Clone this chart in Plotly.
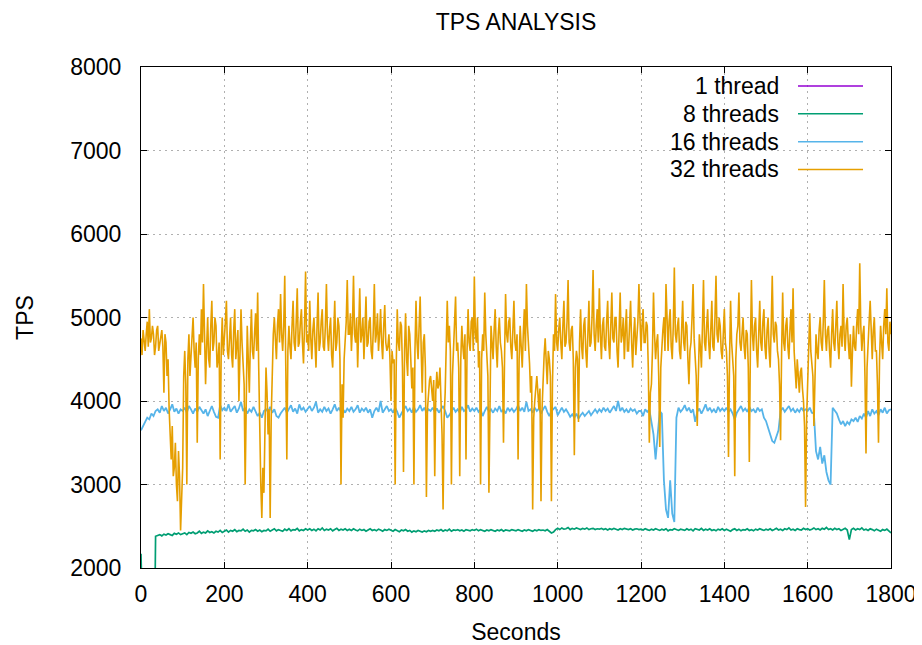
import plotly.graph_objects as go

# ---- data ----
# 32 threads sampled every 2.5 s, the other runs every 5 s
seconds_32 = [i * 2.5 for i in range(721)]
seconds = list(range(0, 1801, 5))

tps_32 = [
    4750,4550, 4850,4700, 4600,4800, 4950,4650, 5100,4700, 4750,4900, 4800,4550, 4650,4850, 4900,4600, 4700,4800, 4850,4650, 4100,4800, 4700,4300, 4500,3900, 3500,3300, 3700,3100, 3200,3500, 3000,2800, 3400,3100, 2450,2900,
    3200,4300, 4600,4200, 3000,4500, 4800,4300, 4500,4750, 5000,4600, 4400,4700, 3500,4500, 4800,4550, 5100,4700, 5400,4800, 4200,4650, 5000,4500, 4400,4900, 5200,4600, 4700,5000, 4900,4400, 4500,4700, 3300,4600, 5000,4550,
    4700,4950, 5200,4600, 4500,4800, 5000,4550, 4400,4850, 5100,4500, 4700,4850, 4000,4600, 5100,4700, 4500,4200, 3000,4400, 4900,4500, 4100,4700, 5100,4600, 4500,4800, 5050,4600, 5300,4400, 3500,3000, 2600,3200, 2900,3700,
    4400,4100, 3600,3900, 2600,3800, 4500,4800, 5000,4650, 4500,4900, 5100,4700, 5280,4800, 4600,4900, 5500,4400, 3300,4600, 4900,4650, 4500,4900, 5200,4700, 4600,4950, 5350,4650, 4700,4950, 5100,4700, 4450,4900, 5550,4700,
    4800,4600, 5200,4750, 4500,4850, 5000,4700, 4400,4900, 5300,4600, 4700,4950, 5100,4650, 4600,4900, 5400,4800, 4600,4850, 5000,4550, 4400,4800, 5200,4600, 4700,5000, 4900,4500, 3000,4200, 3800,4500, 4700,4950, 5450,4800,
    4800,5050, 4600,4900, 5500,4800, 4700,5000, 4400,4800, 5350,4700, 4800,5000, 4500,4850, 5250,4650, 4700,4950, 5000,4600, 4500,4850, 5400,4700, 4800,5050, 4600,4800, 5100,4700, 4500,4900, 5150,4700, 4600,4650, 4800,4500,
    4000,4600, 4450,4500, 3000,4400, 5100,4700, 4600,4950, 4900,4400, 3150,4600, 5050,4500, 4300,4900, 4800,4500, 4150,4400, 3000,4600, 5200,4700, 4500,4900, 5250,4600, 4100,4700, 4800,4400, 2850,3900, 4100,4250, 4300,4150,
    4000,4250, 3100,4100, 4350,4150, 4200,4400, 4000,3600, 2700,3800, 4100,4600, 5200,4700, 4900,4600, 3000,4300, 4600,4950, 5250,4600, 4700,4400, 3100,4500, 4900,4650, 4500,4800, 3300,4600, 5100,4700, 4600,4950, 5000,4600,
    5490,4800, 4700,5000, 4400,4600, 3000,4500, 4800,4600, 5300,4800, 4500,4300, 2900,4400, 4900,4700, 4500,4850, 5100,4650, 4400,4800, 5000,4700, 4600,4400, 3500,4500, 5280,4800, 4700,4950, 5000,4650, 4500,4850, 5200,4700,
    4600,4800, 3300,4500, 4900,4650, 4400,4800, 5100,4600, 5400,4900, 4700,4450, 4100,4300, 2700,3800, 4000,4200, 4300,4100, 3900,4150, 2800,3900, 4400,4550, 4750,4400, 4200,4600, 4500,4300, 2800,4200, 4800,4600, 5280,4700,
    4600,4850, 5000,4700, 4500,4900, 5200,4650, 4700,4950, 5450,4700, 4600,4850, 4900,4500, 3350,4400, 4600,4500, 3750,4700, 5100,4650, 4500,4900, 5000,4600, 4400,4800, 5200,4650, 4700,5000, 5570,4800, 4600,4900, 5100,4700,
    5350,4800, 4500,4900, 5000,4650, 4600,4950, 5200,4700, 4500,4900, 5300,4750, 4700,5000, 5000,4600, 4400,4850, 5300,4700, 4800,5000, 4500,4850, 5100,4600, 4600,4900, 5200,4700, 4400,4800, 5000,4550, 4700,4950, 5400,4800,
    4600,4900, 5100,4700, 4700,4950, 4900,4400, 3500,4100, 4200,4600, 5300,4800, 4500,4700, 4800,4300, 3450,4400, 4700,4850, 5000,4600, 5400,4800, 4600,4950, 5100,4650, 4500,4900, 5600,4800, 4700,4900, 5000,4600, 4500,4850,
    5200,4700, 4600,4950, 4900,4500, 4200,4600, 4700,5000, 5400,4750, 4500,4300, 3700,4500, 4800,4650, 4400,4900, 5450,4700, 4600,4900, 5100,4700, 4500,4850, 5200,4650, 4600,5000, 5500,4800, 4700,5000, 4900,4600, 4500,4800,
    5100,4700, 4600,4300, 3330,4500, 5200,4700, 4500,4300, 3100,4500, 4800,4900, 5300,4700, 4600,4900, 5000,4650, 4500,4850, 4800,4400, 3270,4600, 5450,4800, 4600,4900, 5000,4600, 4400,4800, 5200,4700, 4600,4950, 5100,4650,
    4500,4850, 5000,4600, 4400,4900, 5500,4800, 4700,4950, 4900,4600, 4500,4200, 3530,4600, 5300,4700, 4600,4900, 5000,4650, 4500,4850, 5100,4700, 5350,4600, 4300,4150, 4500,4300, 4100,4350, 4400,4150, 4000,3700, 2730,3800,
    4200,4500, 5050,4600, 4400,4300, 3700,4400, 4800,4600, 4500,4850, 5000,4700, 4600,4950, 5450,4800, 4600,4850, 4900,4600, 4400,4800, 5100,4700, 4600,4900, 5200,4700, 4500,4800, 4900,4650, 5400,4800, 4600,4900, 5000,4700,
    4500,4800, 4170,4600, 4900,4650, 4600,4900, 5100,4800, 5650,4900, 4600,4800, 4900,4300, 3370,4400, 4800,4950, 5200,4700, 4500,4850, 5000,4600, 4600,4200, 3500,4500, 4900,4700, 4500,4900, 5100,4800, 5350,4700, 4600,4950,
    4800,
]

tps_16 = [
    3650, 3700, 3740, 3800, 3780, 3850, 3820, 3880, 3900, 3860, 3940, 3880, 3920, 3850, 3900, 3960, 3870, 3910, 3850, 3900,
    3880, 3920, 3860, 3940, 3900, 3850, 3910, 3870, 3930, 3880, 3850, 3900, 3820, 3880, 3940, 3870, 3810, 3800, 3950, 3890,
    3920, 3880, 3960, 3870, 3900, 3940, 3860, 3910, 3990, 3880, 3920, 3850, 3900, 3870, 3930, 3880, 3820, 3860, 3800, 3880,
    3900, 3870, 3930, 3860, 3900, 3820, 3800, 3850, 3880, 3920, 3860, 3900, 3950, 3870, 3910, 3850, 3960, 3890, 3920, 3870,
    3900, 3940, 3880, 3920, 3990, 3860, 3900, 3870, 3930, 3880, 3910, 3850, 3900, 3960, 3880, 3920, 3870, 3900, 3860, 3910,
    3880, 3930, 3870, 3900, 3950, 3860, 3910, 3880, 3920, 3860, 3900, 3800, 3880, 3920, 3870, 4000, 3860, 3900, 3940, 3880,
    3900, 3860, 3920, 3870, 3800, 3850, 3900, 3940, 3880, 3910, 3860, 3930, 3870, 3900, 3950, 3880, 3920, 3860, 3900, 3880,
    3920, 3870, 3910, 3860, 3900, 3940, 3880, 3800, 3830, 3880, 3920, 3870, 3900, 3860, 3930, 3880, 3900, 3950, 3870, 3910,
    3880, 3920, 3870, 3900, 3820, 3880, 3930, 3870, 3900, 3860, 3910, 3880, 3940, 3870, 3900, 3850, 3920, 3880, 3910, 3870,
    3900, 3950, 3880, 3920, 3870, 3990, 3880, 3900, 3860, 3920, 3880, 3910, 3850, 3900, 3940, 3870, 3820, 3880, 3900, 3930,
    3830, 3880, 3920, 3870, 3900, 3860, 3810, 3840, 3800, 3850, 3790, 3830, 3860, 3820, 3850, 3880, 3830, 3870, 3900, 3860,
    3900, 3870, 3920, 3880, 3910, 3860, 3900, 3940, 3880, 4000, 3880, 3920, 3870, 3900, 3860, 3910, 3880, 3900, 3850, 3880,
    3880, 3820, 3900, 3870, 3900, 3750, 3600, 3300, 3550, 3880, 3850, 3050, 2700, 2600, 3050, 2650, 2550, 3800, 3920, 3870,
    3900, 3950, 3880, 3920, 3860, 3900, 3750, 3870, 3910, 3850, 3900, 3960, 3880, 3920, 3870, 3900, 3860, 3930, 3880, 3910,
    3880, 3920, 3870, 3900, 3850, 3780, 3860, 3900, 3940, 3880, 3910, 3870, 3930, 3880, 3900, 3860, 3920, 3880, 3900, 3800,
    3760, 3680, 3600, 3520, 3500, 3580, 3650, 3880, 3920, 3870, 3900, 3940, 3880, 3910, 3860, 3900, 3870, 3920, 3880, 3900,
    3880, 3920, 3860, 3850, 3400, 3300, 3450, 3250, 3350, 3150, 3050, 3000, 3920, 3880, 3850, 3780, 3720, 3760, 3700, 3750,
    3720, 3780, 3760, 3800, 3750, 3820, 3790, 3850, 3800, 3880, 3820, 3900, 3850, 3880, 3830, 3900, 3860, 3920, 3850, 3890,
    3900,
]

tps_8 = [
    2170, 0, 0, 0, 0, 0, 0, 2380, 2390, 2400, 2385, 2405, 2395, 2410, 2400, 2390, 2415, 2405, 2420, 2400,
    2410, 2420, 2400, 2425, 2415, 2430, 2410, 2420, 2440, 2415, 2430, 2420, 2445, 2425, 2435, 2420, 2440, 2430, 2450, 2425,
    2440, 2455, 2430, 2450, 2440, 2460, 2435, 2450, 2445, 2465, 2440, 2455, 2430, 2450, 2445, 2460, 2440, 2455, 2435, 2450,
    2445, 2465, 2440, 2455, 2470, 2445, 2460, 2450, 2440, 2465, 2450, 2470, 2445, 2460, 2455, 2475, 2445, 2460, 2450, 2470,
    2455, 2470, 2450, 2465, 2445, 2470, 2455, 2480, 2450, 2465, 2455, 2470, 2445, 2460, 2475, 2450, 2465, 2455, 2470, 2450,
    2465, 2450, 2470, 2455, 2445, 2465, 2450, 2460, 2440, 2455, 2470, 2450, 2460, 2445, 2465, 2455, 2440, 2460, 2450, 2465,
    2455, 2440, 2460, 2450, 2435, 2455, 2445, 2460, 2440, 2450, 2430, 2445, 2435, 2450, 2440, 2430, 2445, 2435, 2450, 2440,
    2450, 2440, 2455, 2445, 2460, 2440, 2455, 2445, 2465, 2440, 2455, 2450, 2460, 2445, 2455, 2440, 2460, 2450, 2445, 2460,
    2450, 2465, 2445, 2460, 2450, 2440, 2455, 2445, 2460, 2450, 2440, 2455, 2445, 2460, 2440, 2455, 2450, 2445, 2460, 2450,
    2445, 2460, 2450, 2440, 2455, 2445, 2460, 2450, 2440, 2455, 2445, 2460, 2450, 2455, 2445, 2460, 2435, 2420, 2430, 2460,
    2475, 2460, 2480, 2465, 2470, 2485, 2460, 2475, 2465, 2480, 2470, 2460, 2475, 2465, 2480, 2460, 2470, 2475, 2460, 2470,
    2465, 2475, 2460, 2470, 2455, 2470, 2460, 2475, 2465, 2455, 2470, 2460, 2475, 2465, 2460, 2470, 2455, 2465, 2470, 2460,
    2465, 2455, 2470, 2460, 2450, 2465, 2455, 2470, 2460, 2450, 2465, 2455, 2470, 2445, 2460, 2455, 2470, 2460, 2450, 2465,
    2460, 2450, 2470, 2455, 2465, 2445, 2470, 2460, 2455, 2475, 2450, 2465, 2455, 2470, 2450, 2460, 2445, 2465, 2455, 2470,
    2450, 2465, 2455, 2440, 2460, 2470, 2450, 2465, 2445, 2460, 2455, 2470, 2450, 2460, 2445, 2465, 2455, 2470, 2460, 2450,
    2465, 2455, 2470, 2450, 2460, 2475, 2455, 2465, 2450, 2470, 2460, 2480, 2455, 2465, 2450, 2470, 2460, 2455, 2475, 2460,
    2470, 2455, 2465, 2480, 2460, 2470, 2455, 2475, 2465, 2485, 2460, 2470, 2455, 2475, 2460, 2470, 2450, 2465, 2475, 2455,
    2340, 2460, 2475, 2455, 2470, 2460, 2480, 2455, 2465, 2450, 2470, 2460, 2445, 2465, 2455, 2440, 2460, 2450, 2465, 2440,
    2420,
]

# 1 thread stays below the visible range (not visible in the reference)
seconds_1 = list(range(0, 1801, 100))
tps_1 = [940, 960, 955, 970, 950, 965, 960, 945, 970, 955, 960, 950, 965, 955, 970, 960, 950, 965, 955]

series_names = ["1 thread", "8 threads", "16 threads", "32 threads"]
series_colors = ["#9400d3", "#009e73", "#56b4e9", "#e69f00"]
series_widths = [1.3, 1.7, 1.8, 1.6]

assert len(tps_32) == len(seconds_32), len(tps_32)
assert len(tps_16) == len(seconds), len(tps_16)
assert len(tps_8) == len(seconds), len(tps_8)
assert len(tps_1) == len(seconds_1), len(tps_1)

FONT = "Liberation Sans, Arial, sans-serif"
FS = 23

fig = go.Figure()
xs = [seconds_1, seconds, seconds, seconds_32]
ys = [tps_1, tps_8, tps_16, tps_32]
for name, col, w, x, y in zip(series_names, series_colors, series_widths, xs, ys):
    fig.add_trace(go.Scatter(x=x, y=y, mode="lines", name=name,
                             line=dict(color=col, width=w), showlegend=False))

# gnuplot-style key: right-aligned text, sample line to its right
key_text_x = 0.853
key_line_x0, key_line_x1 = 0.876, 0.9627
key_y0, key_dy = 0.962, 0.0555
for i, (name, col) in enumerate(zip(series_names, series_colors)):
    yy = key_y0 - i * key_dy
    fig.add_annotation(x=key_text_x, y=yy, xref="paper", yref="paper",
                       text=name, showarrow=False, xanchor="right", yanchor="middle",
                       font=dict(family=FONT, size=FS, color="#000000"))
    fig.add_shape(type="line", xref="paper", yref="paper",
                  x0=key_line_x0, x1=key_line_x1, y0=yy, y1=yy,
                  line=dict(color=col, width=1.5))

axis_common = dict(
    showline=True, linecolor="#000000", linewidth=1, mirror="ticks",
    ticks="inside", ticklen=6, tickcolor="#000000",
    showgrid=True, gridcolor="#b0b0b0", gridwidth=1, griddash="2px,4px",
    zeroline=False, automargin=False,
    tickfont=dict(family=FONT, size=FS, color="#000000"),
)

# the page body adds an 8 px offset, so the figure is 8 px smaller
fig.update_layout(
    width=914, height=637,
    margin=dict(l=133, r=31, t=59, b=77),
    paper_bgcolor="#ffffff", plot_bgcolor="#ffffff",
    title=dict(text="TPS ANALYSIS", x=0.5, xref="paper", xanchor="center",
               y=1 - 14 / 637, yref="container", yanchor="middle",
               font=dict(family=FONT, size=FS, color="#000000")),
    xaxis=dict(range=[0, 1800], dtick=200, tick0=0, ticklabelstandoff=5,
               title=dict(text="Seconds", standoff=25,
                          font=dict(family=FONT, size=FS, color="#000000")),
               **axis_common),
    yaxis=dict(range=[2000, 8000], dtick=1000, tick0=2000, ticklabelstandoff=14,
               title=dict(text="TPS", standoff=30,
                          font=dict(family=FONT, size=FS, color="#000000")),
               **axis_common),
    showlegend=False,
)

fig.write_html("out.html")
